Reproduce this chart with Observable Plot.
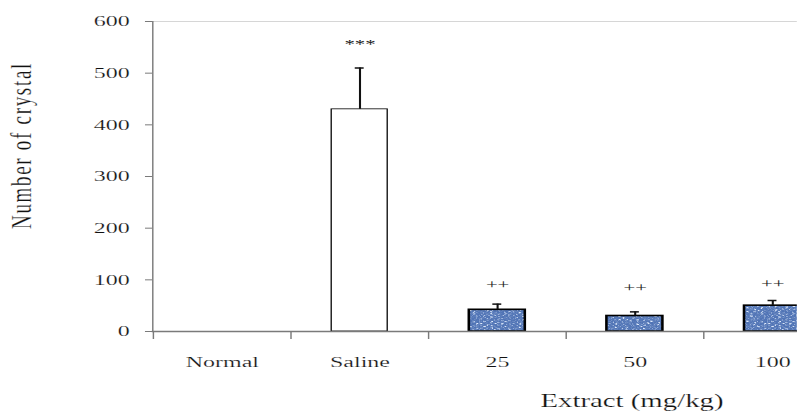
<!DOCTYPE html>
<html>
<head>
<meta charset="utf-8">
<script src="https://cdn.jsdelivr.net/npm/d3@7"></script>
<script src="https://cdn.jsdelivr.net/npm/@observablehq/plot@0.6"></script>
<style>
  html, body { margin: 0; padding: 0; background: #fff; overflow: hidden; }
  #chart { width: 797px; height: 414px; overflow: hidden; }
</style>
</head>
<body>
<div id="chart"></div>
<script>
// ---- data ----
const categories = ["Normal", "Saline", "25", "50", "100"];
const means      = [0, 430, 42, 30, 50];
const errors     = [0, 80, 11, 8, 10];
const signs      = ["", "***", "++", "++", "++"];
const signLevels = [0, 557, 91, 85, 93];
const yTicks     = [0, 100, 200, 300, 400, 500, 600];
const yLabel = "Number of crystal";
const xLabel = "Extract (mg/kg)";

// ---- layout (the original picture is stretched horizontally) ----
const S = 1.6;
const W = 797 / S, H = 414;
const mL = 95, mT = 21, mB = 83;
const xRange = [95, 842 / S];
const step = (xRange[1] - xRange[0]) / categories.length;
const padIn = 0.594;
const bw = step * (1 - padIn);
const capInset = (bw - 5.6) / 2;

const data = categories.map((c, i) => ({
  group: c, mean: means[i], err: errors[i], sign: signs[i], level: signLevels[i]
}));
const bars = data.filter(d => d.mean > 0);
const saline = bars.filter(d => d.group === "Saline");
const extract = bars.filter(d => d.group !== "Saline");

const font = "'Liberation Serif', 'Times New Roman', serif";

const svg = Plot.plot({
  width: W,
  height: H,
  marginLeft: mL,
  marginRight: 0,
  marginTop: mT,
  marginBottom: mB,
  style: { fontFamily: font, fontSize: "15px", color: "#222", background: "white", overflow: "hidden" },
  x: { type: "band", domain: categories, range: xRange, paddingInner: padIn, paddingOuter: padIn / 2, axis: null },
  y: { domain: [0, 600], axis: null },
  marks: [
    Plot.ruleY([600], { stroke: "#d6d6d6", strokeWidth: 1 }),
    Plot.frame({ anchor: "left", stroke: "#7a7a7a", strokeWidth: 0.9 }),
    Plot.axisY({ ticks: yTicks, tickSize: 4.4, tickPadding: 10, stroke: "#7a7a7a", fill: "#111", label: null, fontSize: 15 }),
    Plot.axisX({ tickSize: 0, tickPadding: 25, fill: "#111", label: null, fontSize: 15 }),
    // boundary ticks between categories
    Plot.ruleX(categories, { x: d => d, dx: -step / 2, insetTop: H - mT - mB, insetBottom: -8, stroke: "#7a7a7a", strokeWidth: 0.9 }),
    // bars
    Plot.barY(saline, { x: "group", y: "mean", fill: "white", stroke: "black", strokeWidth: 0.8 }),
    Plot.barY(extract, { x: "group", y: "mean", fill: "url(#tex)", stroke: "black", strokeWidth: 1.6 }),
    // error bars
    Plot.ruleX(bars, { x: "group", y1: "mean", y2: d => d.mean + d.err, stroke: "#111", strokeWidth: 1.3 }),
    Plot.tickY(bars, { x: "group", y: d => d.mean + d.err, insetLeft: capInset, insetRight: capInset, stroke: "#111", strokeWidth: 1.5 }),
    // significance marks
    Plot.text(bars, { x: "group", y: "level", text: "sign", fontSize: 13, fill: "#222" }),
    Plot.frame({ anchor: "bottom", stroke: "#7a7a7a", strokeWidth: 1.4 }),
    // axis titles
    Plot.text([yLabel], { frameAnchor: "left", textAnchor: "middle", rotate: -90, dx: -82, dy: -31, fontSize: 19, fill: "#111" }),
    Plot.text([xLabel], { x: () => "50", frameAnchor: "bottom", dx: -2, dy: 75, fontSize: 18, fill: "#111" })
  ]
});

// texture pattern for the extract bars
d3.select(svg).insert("defs", ":first-child").html(`
  <filter id="specks" x="0" y="0" width="100%" height="100%">
    <feTurbulence type="fractalNoise" baseFrequency="0.45 1.0" numOctaves="2" seed="7" result="n"/>
    <feColorMatrix in="n" type="matrix"
      values="0 0 0 0 0.75  0 0 0 0 0.84  0 0 0 0 0.97  4.5 0 0 0 -2.2"/>
  </filter>
  <filter id="darks" x="0" y="0" width="100%" height="100%">
    <feTurbulence type="fractalNoise" baseFrequency="0.6 1.2" numOctaves="2" seed="19" result="n"/>
    <feColorMatrix in="n" type="matrix"
      values="0 0 0 0 0.12  0 0 0 0 0.22  0 0 0 0 0.50  4.5 0 0 0 -2.1"/>
  </filter>
  <pattern id="tex" patternUnits="userSpaceOnUse" width="60" height="60">
    <rect width="60" height="60" fill="#5074b6"/>
    <rect width="60" height="60" filter="url(#specks)"/>
    <rect width="60" height="60" filter="url(#darks)"/>
  </pattern>
`);

// slightly thinner glyphs for the larger texts (the horizontal stretch thickens stems)
d3.select(svg).selectAll("text")
  .filter(function () { return !/^[*+]+$/.test(this.textContent); })
  .style("stroke", "white")
  .style("stroke-width", "0.18px")
  .style("paint-order", "normal");

// letter spacing of the vertical title
d3.select(svg).selectAll("text").filter(function () { return this.textContent === yLabel; })
  .style("letter-spacing", "1.7px");

svg.style.transform = `scaleX(${S})`;
svg.style.transformOrigin = "0 0";
svg.style.maxWidth = "none";
document.getElementById("chart").appendChild(svg);
</script>
</body>
</html>
